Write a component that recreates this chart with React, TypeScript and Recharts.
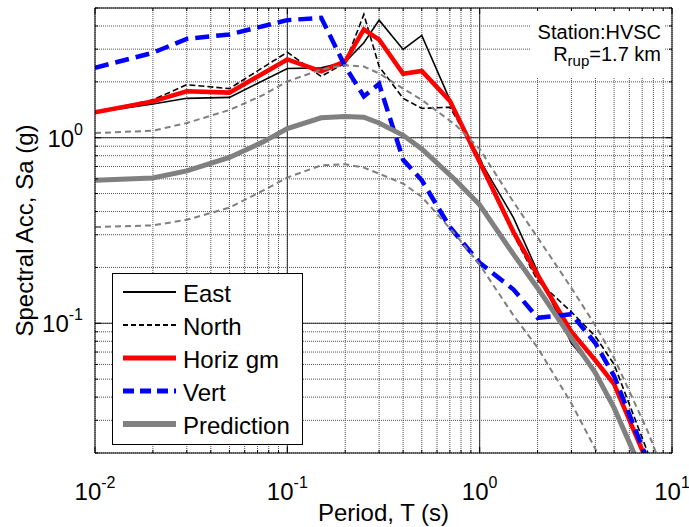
import React from "react";
import { LineChart, Line, XAxis, YAxis, CartesianGrid, ReferenceLine, Legend } from "recharts";

// recorded spectra, period (s) vs Sa (g)
const recPeriods = [0.01, 0.02, 0.03, 0.05, 0.1, 0.15, 0.2, 0.25, 0.3, 0.4, 0.5, 0.7, 1, 1.5, 2, 3, 4, 5, 7.5, 10];
const east = [1.37, 1.52, 1.63, 1.65, 2.36, 2.38, 2.56, 3.25, 4.3, 2.99, 3.56, 1.6, 0.76, 0.37, 0.19, 0.078, 0.055, 0.034, 0.013, 0.006];
const north = [1.37, 1.6, 1.93, 1.84, 2.89, 2.14, 2.53, 4.62, 2.42, 1.63, 1.44, 1.46, 0.78, 0.3, 0.17, 0.115, 0.085, 0.06, 0.02, 0.009];
const horizGm = [1.37, 1.57, 1.78, 1.75, 2.64, 2.28, 2.58, 3.83, 3.38, 2.21, 2.29, 1.58, 0.74, 0.31, 0.182, 0.09, 0.063, 0.047, 0.0175, 0.008];
const vert = [2.38, 2.87, 3.41, 3.6, 4.3, 4.43, 2.42, 1.67, 1.95, 0.76, 0.59, 0.33, 0.212, 0.152, 0.107, 0.112, 0.078, 0.052, 0.018, 0.008];

// GMPE prediction: median and +/- one sigma
const predPeriods = [0.01, 0.02, 0.03, 0.05, 0.075, 0.1, 0.15, 0.2, 0.25, 0.3, 0.4, 0.5, 0.75, 1, 1.5, 2, 3, 4, 5, 7.5, 10];
const predMedian = [0.59, 0.607, 0.663, 0.783, 0.95, 1.12, 1.28, 1.3, 1.29, 1.2, 1.03, 0.87, 0.59, 0.435, 0.235, 0.155, 0.083, 0.054, 0.035, 0.0135, 0.007];
const predPlus = [1.06, 1.09, 1.2, 1.41, 1.7, 2.01, 2.33, 2.46, 2.42, 2.22, 1.84, 1.6, 1.17, 0.87, 0.45, 0.29, 0.155, 0.097, 0.065, 0.026, 0.012];
const predMinus = [0.33, 0.337, 0.361, 0.42, 0.52, 0.61, 0.71, 0.72, 0.69, 0.64, 0.566, 0.48, 0.3, 0.207, 0.11, 0.074, 0.037, 0.021, 0.012, 0.005, 0.003];

const xTicks = [
  0.01, 0.02, 0.03, 0.04, 0.05, 0.06, 0.07, 0.08, 0.09,
  0.1, 0.2, 0.3, 0.4, 0.5, 0.6, 0.7, 0.8, 0.9,
  1, 2, 3, 4, 5, 6, 7, 8, 9, 10,
];
const yTicks = [
  0.02, 0.03, 0.04, 0.05, 0.06, 0.07, 0.08, 0.09,
  0.1, 0.2, 0.3, 0.4, 0.5, 0.6, 0.7, 0.8, 0.9,
  1, 2, 3, 4, 5,
];
const xMajor = [0.01, 0.1, 1, 10];
const yMajor = [0.1, 1];

const recData = recPeriods.map((t, i) => ({
  period: t,
  east: east[i],
  north: north[i],
  horiz: horizGm[i],
  vert: vert[i],
}));
const predData = predPeriods.map((t, i) => ({
  period: t,
  median: predMedian[i],
  plus: predPlus[i],
  minus: predMinus[i],
}));

const FONT = "Arial, 'Liberation Sans', sans-serif";

const legendItems = [
  { name: "East", color: "#000000", width: 2, dash: undefined },
  { name: "North", color: "#000000", width: 2, dash: "5 3" },
  { name: "Horiz gm", color: "#ff0000", width: 5, dash: undefined },
  { name: "Vert", color: "#0000ff", width: 5, dash: "11 6" },
  { name: "Prediction", color: "#808080", width: 6, dash: undefined },
];

const exponent = (v: number) => String(Math.round(Math.log10(v)));

function BottomTick(props: any) {
  const { x, y, payload } = props;
  const major = xMajor.includes(payload.value);
  return (
    <g>
      <line x1={x} y1={y} x2={x} y2={y - (major ? 6 : 3)} stroke="#000" />
      {major && (
        <text x={x} y={y + 47} textAnchor="middle" fontFamily={FONT} fontSize={24} fill="#000">
          10
          <tspan dy={-12} fontSize={16}>{exponent(payload.value)}</tspan>
        </text>
      )}
    </g>
  );
}

function TopTick(props: any) {
  const { x, y, payload } = props;
  const major = xMajor.includes(payload.value);
  return <line x1={x} y1={y} x2={x} y2={y + (major ? 6 : 3)} stroke="#000" />;
}

function LeftTick(props: any) {
  const { x, y, payload } = props;
  const major = yMajor.includes(payload.value);
  return (
    <g>
      <line x1={x} y1={y} x2={x + (major ? 6 : 3)} y2={y} stroke="#000" />
      {major && (
        <text x={x - 12} y={y + 9} textAnchor="end" fontFamily={FONT} fontSize={24} fill="#000">
          10
          <tspan dy={-12} fontSize={16}>{exponent(payload.value)}</tspan>
        </text>
      )}
    </g>
  );
}

function RightTick(props: any) {
  const { x, y, payload } = props;
  const major = yMajor.includes(payload.value);
  return <line x1={x} y1={y} x2={x - (major ? 6 : 3)} y2={y} stroke="#000" />;
}

function YTitle(props: any) {
  const { viewBox } = props;
  const cx = 33;
  const cy = viewBox.y + viewBox.height / 2;
  return (
    <text
      x={cx}
      y={cy}
      transform={`rotate(-90, ${cx}, ${cy})`}
      textAnchor="middle"
      fontFamily={FONT}
      fontSize={24}
      fill="#000"
    >
      Spectral Acc, Sa (g)
    </text>
  );
}

function XTitle(props: any) {
  const { viewBox } = props;
  return (
    <text
      x={viewBox.x + viewBox.width / 2}
      y={521}
      textAnchor="middle"
      fontFamily={FONT}
      fontSize={24}
      fill="#000"
    >
      Period, T (s)
    </text>
  );
}

function LegendBox() {
  return (
    <div
      style={{
        boxSizing: "border-box",
        width: 191,
        height: 172,
        border: "1px solid #000",
        background: "#fff",
        paddingTop: 1,
        fontFamily: FONT,
        fontSize: 24,
        color: "#000",
      }}
    >
      {legendItems.map((it) => (
        <div key={it.name} style={{ display: "flex", alignItems: "center", height: 33 }}>
          <svg width={53} height={10} style={{ marginLeft: 10 }}>
            <line
              x1={0}
              y1={5}
              x2={53}
              y2={5}
              stroke={it.color}
              strokeWidth={it.width}
              strokeDasharray={it.dash}
            />
          </svg>
          <span style={{ marginLeft: 7, paddingTop: 4, lineHeight: "24px" }}>{it.name}</span>
        </div>
      ))}
    </div>
  );
}

export default function App() {
  return (
    <div style={{ position: "absolute", left: 0, top: 0, width: 689, height: 527, background: "#fff" }}>
      <LineChart width={689} height={527} margin={{ top: 7, right: 16, bottom: 73, left: 94 }}>
        <CartesianGrid stroke="#505050" strokeDasharray="1 1" />
        <XAxis
          dataKey="period"
          type="number"
          scale="log"
          domain={[0.01, 10]}
          allowDataOverflow
          ticks={xTicks}
          interval={0}
          height={1}
          tickSize={0}
          tickMargin={0}
          tickLine={false}
          axisLine={{ stroke: "#000" }}
          tick={<BottomTick />}
          label={<XTitle />}
        />
        <XAxis
          xAxisId="top"
          orientation="top"
          dataKey="period"
          type="number"
          scale="log"
          domain={[0.01, 10]}
          allowDataOverflow
          ticks={xTicks}
          interval={0}
          height={1}
          tickSize={0}
          tickMargin={0}
          tickLine={false}
          axisLine={{ stroke: "#000" }}
          tick={<TopTick />}
        />
        <YAxis
          type="number"
          scale="log"
          domain={[0.02, 5]}
          allowDataOverflow
          ticks={yTicks}
          interval={0}
          width={1}
          tickSize={0}
          tickMargin={0}
          tickLine={false}
          axisLine={{ stroke: "#000" }}
          tick={<LeftTick />}
          label={<YTitle />}
        />
        <YAxis
          yAxisId="right"
          orientation="right"
          type="number"
          scale="log"
          domain={[0.02, 5]}
          allowDataOverflow
          ticks={yTicks}
          interval={0}
          width={1}
          tickSize={0}
          tickMargin={0}
          tickLine={false}
          axisLine={{ stroke: "#000" }}
          tick={<RightTick />}
        />
        {xMajor.slice(1, 3).map((v) => (
          <ReferenceLine key={`x${v}`} x={v} stroke="#303030" />
        ))}
        {yMajor.map((v) => (
          <ReferenceLine key={`y${v}`} y={v} stroke="#303030" />
        ))}
        <Line data={recData} dataKey="east" stroke="#000000" strokeWidth={1.6} dot={false} activeDot={false} isAnimationActive={false} />
        <Line data={recData} dataKey="north" stroke="#000000" strokeWidth={1.6} strokeDasharray="6 3" dot={false} activeDot={false} isAnimationActive={false} />
        <Line data={recData} dataKey="horiz" stroke="#ff0000" strokeWidth={4.5} dot={false} activeDot={false} isAnimationActive={false} />
        <Line data={recData} dataKey="vert" stroke="#0000ff" strokeWidth={4.5} strokeDasharray="14 7" dot={false} activeDot={false} isAnimationActive={false} />
        <Line data={predData} dataKey="median" stroke="#808080" strokeWidth={5} dot={false} activeDot={false} isAnimationActive={false} />
        <Line data={predData} dataKey="plus" stroke="#808080" strokeWidth={2} strokeDasharray="6 4" dot={false} activeDot={false} isAnimationActive={false} />
        <Line data={predData} dataKey="minus" stroke="#808080" strokeWidth={2} strokeDasharray="6 4" dot={false} activeDot={false} isAnimationActive={false} />
        <Legend
          layout="vertical"
          align="center"
          verticalAlign="middle"
          content={<LegendBox />}
          wrapperStyle={{ left: 112, top: 273, width: 191, height: 172 }}
        />
      </LineChart>
      <div
        style={{
          position: "absolute",
          left: 530,
          top: 11,
          width: 134,
          height: 67,
          background: "#fff",
          fontFamily: FONT,
          fontSize: 20,
          color: "#000",
        }}
      >
        <div style={{ position: "absolute", right: 3, top: 10, lineHeight: "23px", whiteSpace: "nowrap" }}>
          Station:HVSC
        </div>
        <div style={{ position: "absolute", right: 3, top: 32, lineHeight: "23px", whiteSpace: "nowrap" }}>
          R<sub style={{ fontSize: 15, verticalAlign: "-5px" }}>rup</sub>=1.7 km
        </div>
      </div>
    </div>
  );
}
